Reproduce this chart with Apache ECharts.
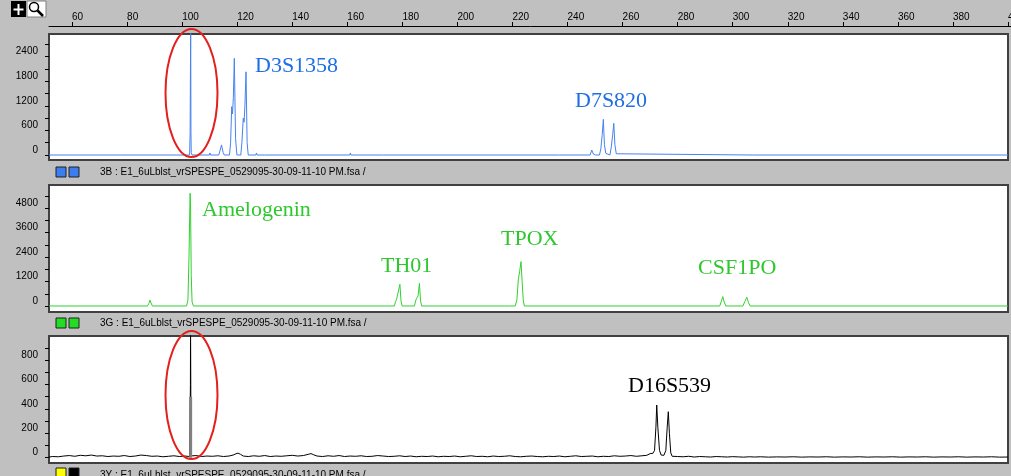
<!DOCTYPE html>
<html><head><meta charset="utf-8">
<script src="https://cdn.jsdelivr.net/npm/echarts@6/dist/echarts.min.js"></script>
<style>html,body{margin:0;padding:0;background:#c0c0c0;overflow:hidden}#c{width:1011px;height:476px}</style>
</head><body><div id="c"></div>
<script>
// ---------- data ----------
const rulerTicks = [60,80,100,120,140,160,180,200,220,240,260,280,300,320,340,360,380,400];

const y1Ticks = [0,300,600,900,1200,1500,1800,2100,2400,2700];
const y1Labels = [0,600,1200,1800,2400];
const y2Ticks = [0,600,1200,1800,2400,3000,3600,4200,4800,5400];
const y2Labels = [0,1200,2400,3600,4800];
const y3Ticks = [0,100,200,300,400,500,600,700,800,900];
const y3Labels = [0,200,400,600,800];

// blue dye (size bp, RFU)
const blueTrace = [
[51.6,0],[60.8,0],[61.1,40],[61.4,0],
[77.7,0],[78.0,40],[78.3,0],
[102.7,0],[102.9,540],[103.0,1950],[103.05,1950],[103.1,3100],[103.2,540],[103.3,60],[103.6,0],
[109.9,0],[110.1,50],[110.3,0],
[113.3,0],[113.8,120],[114.3,245],[114.6,290],[114.9,60],[115.3,0],
[117.2,0],[117.6,300],[118.0,1180],[118.3,1000],[118.6,1400],[118.95,2360],[119.4,400],[119.9,0],
[121.3,0],[121.7,300],[122.2,900],[122.5,800],[122.8,1200],[123.2,2030],[123.6,300],[124.0,0],
[126.8,0],[127.0,50],[127.2,0],
[129.9,0],[130.1,40],[130.3,0],
[160.9,0],[161.1,50],[161.3,0],
[165.6,0],[165.8,40],[166.0,0],
[173.2,0],[173.4,40],[173.6,0],
[237.1,0],[237.3,40],[237.5,0],
[248.2,0],[248.8,120],[249.4,20],[250.2,0],
[251.6,0],[252.1,150],[252.6,500],[253.0,870],[253.4,250],[253.9,40],[254.5,0],
[255.4,0],[255.9,200],[256.4,500],[256.8,773],[257.2,250],[257.7,30],[258.2,0],
[307.1,0],[307.3,40],[307.5,0],
[342.5,0],[342.7,40],[342.9,0],
[376.7,0],[376.9,40],[377.1,0],
[400,0]];

// green dye
const greenTrace = [
[51.6,0],[54.9,0],[55.1,80],[55.3,0],
[87.4,0],[87.9,120],[88.3,290],[88.7,150],[89.2,0],
[101.6,0],[102.1,300],[102.5,2500],[102.8,4960],[102.9,5540],[103.05,4960],[103.3,1500],[103.6,200],[104.1,0],
[108.3,0],[108.6,70],[109.0,0],
[175.3,0],[175.5,50],[175.7,0],
[177.1,0],[177.5,200],[177.9,330],[178.5,420],[179.1,1066],[179.5,250],[179.9,0],
[184.4,0],[184.8,250],[185.2,380],[185.7,500],[186.2,1115],[186.6,250],[187.0,0],
[193.2,0],[193.4,40],[193.6,0],
[218.9,0],[219.1,40],[219.3,0],
[221.0,0],[221.6,300],[222.1,1280],[222.6,1700],[223.1,2180],[223.5,1200],[223.9,300],[224.3,0],
[295.3,0],[295.9,250],[296.4,460],[296.9,200],[297.5,0],
[300.3,0],[300.5,40],[300.7,0],
[303.7,0],[304.4,220],[305.1,430],[305.7,180],[306.3,0],
[400,0]];

// yellow dye (drawn in black)
const blackTrace = [
[51.6,6],[53,10],[55,8],[57,14],[59,18],[61,12],[63,20],[65,16],[67,22],[69,14],[71,16],[73,10],[75,14],[77,12],[79,18],
[81,10],[83,14],[85,22],[87,18],[89,12],[91,14],[93,8],[95,12],[97,16],[99,10],[101,14],[102.7,10],
[102.95,20],[103.0,600],[103.05,1080],[103.12,1080],[103.17,400],[103.25,15],[103.6,12],
[105,18],[107,10],[109,14],[111,12],[113,16],[115,10],[117,14],[118.5,22],[119.5,32],[120.3,38],[121.2,28],[122.2,14],
[124,10],[126,16],[128,12],[130,18],[132,10],[134,14],[136,12],[138,16],[140,20],[142,14],[144,18],[145.8,28],[146.8,34],[147.8,24],
[149,14],[151,10],[153,16],[155,12],[157,18],[159,10],[161,14],[163,12],[165,16],[167,10],[169,12],[171,18],[173,14],[175,10],
[177,12],[179,16],[181,10],[183,14],[185,8],[187,12],[189,10],[191,14],[193,8],[195,12],[197,10],[199,14],[201,8],[203,12],
[205,16],[207,10],[209,12],[211,8],[213,14],[215,10],[217,12],[219,16],[221,10],[223,8],[225,12],[227,14],[229,10],[231,8],
[233,12],[235,10],[237,14],[239,8],[241,12],[243,16],[245,10],[247,12],[249,14],[251,8],[253,12],[255,10],[257,16],[259,12],
[261,14],[263,18],[265,12],[267,16],[268.8,20],[270,34],[271,36],[271.6,60],[272.1,250],[272.4,432],[272.8,250],[273.4,60],
[274,22],[275,20],[275.7,60],[276.2,250],[276.6,377],[277,200],[277.5,40],[278,12],
[280,10],[282,8],[284,12],[286,6],[288,10],[290,8],[292,6],[294,10],[296,8],[298,6],[300,9],[302,7],[304,5],[306,8],[308,6],
[310,8],[313,5],[316,7],[319,6],[322,8],[325,5],[328,7],[331,6],[334,8],[337,5],[340,7],[343,6],[346,8],[349,5],[352,7],
[355,6],[358,8],[361,5],[364,7],[367,6],[370,8],[373,5],[376,7],[379,6],[382,8],[385,5],[388,7],[391,6],[394,8],[397,5],[400,6]];
const grayPullup = [[103.08,0],[103.08,500]];

const markerLabels = [
  {name:'D3S1358', panel:0, x:255, y:66},
  {name:'D7S820', panel:0, x:575, y:101},
  {name:'Amelogenin', panel:1, x:202, y:210},
  {name:'TH01', panel:1, x:381, y:266},
  {name:'TPOX', panel:1, x:501, y:239},
  {name:'CSF1PO', panel:1, x:698, y:268},
  {name:'D16S539', panel:2, x:628, y:386}
];
const fileLabels = [
  '3B : E1_6uLblst_vrSPESPE_0529095-30-09-11-10 PM.fsa /',
  '3G : E1_6uLblst_vrSPESPE_0529095-30-09-11-10 PM.fsa /',
  '3Y : E1_6uLblst_vrSPESPE_0529095-30-09-11-10 PM.fsa /'
];

// ---------- styles ----------
const lineColors = ['#4682f0','#30d030','#000000'];
const textColors = ['#1e6ee6','#2ec82e','#000000'];
const squareColors = [['#3c7df0','#3c7df0'],['#22dd22','#22dd22'],['#ffff00','#000000']];
const barTextY = [172, 323, 475];
const squareY = [172, 323, 473];

const LEFT = 49, RIGHT = 3, X_MIN = 51.63, X_MAX = 400;
const PX_PER_BP = 959 / (X_MAX - X_MIN);
const RULER_RIGHT = -20;
const RULER_MAX = X_MAX + (RIGHT - RULER_RIGHT) / PX_PER_BP;
const panelTops = [34, 185, 336];
const panelHeights = [126, 127, 127];
const yMin = [-122, -295, -43];
const yMax = [2953, 5946, 997];
const yTickSets = [y1Ticks, y2Ticks, y3Ticks];
const yLabelSets = [y1Labels, y2Labels, y3Labels];
const traces = [blueTrace, greenTrace, blackTrace];
const plain = v => String(v);

const grid = [{left:LEFT, right:RULER_RIGHT, top:0, height:26, show:false, outerBoundsMode:'none', containLabel:false}];
const xAxis = [{
  gridIndex:0, type:'value', min:X_MIN, max:RULER_MAX, position:'bottom',
  axisLine:{show:true, lineStyle:{color:'#000', width:1}},
  axisTick:{show:true, inside:true, length:4, customValues:rulerTicks, lineStyle:{color:'#000'}},
  axisLabel:{show:true, inside:true, customValues:rulerTicks, align:'left', verticalAlign:'middle', margin:9,
    fontSize:10, color:'#000', fontFamily:'Liberation Sans, Arial, sans-serif', formatter:plain, hideOverlap:false},
  splitLine:{show:false}
}];
const yAxis = [{gridIndex:0, type:'value', show:false}];
const series = [];

for (let i = 0; i < 3; i++) {
  grid.push({left:LEFT, right:RIGHT, top:panelTops[i], height:panelHeights[i], show:true, outerBoundsMode:'none', containLabel:false,
    backgroundColor:'#ffffff', borderColor:'#404040', borderWidth:2});
  xAxis.push({gridIndex:i+1, type:'value', min:X_MIN, max:X_MAX, show:false, splitLine:{show:false}});
  yAxis.push({gridIndex:i+1, type:'value', min:yMin[i], max:yMax[i],
    axisLine:{show:false},
    axisTick:{show:true, length:4, customValues:yTickSets[i], lineStyle:{color:'#000'}},
    axisLabel:{show:true, customValues:yLabelSets[i], formatter:plain, fontSize:10, color:'#000', margin:11,
      verticalAlign:'bottom', lineHeight:10, fontFamily:'Liberation Sans, Arial, sans-serif'},
    splitLine:{show:false}});
  series.push({type:'line', xAxisIndex:i+1, yAxisIndex:i+1, data:traces[i], showSymbol:false, symbol:'none',
    lineStyle:{color:lineColors[i], width:1}, animation:false, silent:true, clip:true});
}
series.push({type:'line', xAxisIndex:3, yAxisIndex:3, data:grayPullup, showSymbol:false, symbol:'none',
  lineStyle:{color:'#808080', width:3}, animation:false, silent:true, z:3});

// ---------- decorations ----------
const graphic = [];
// toolbar icons
graphic.push({type:'rect', shape:{x:11,y:1,width:15,height:16}, style:{fill:'#000'}, z:100});
graphic.push({type:'line', shape:{x1:13.5,y1:9.5,x2:23.5,y2:9.5}, style:{stroke:'#fff',lineWidth:2}, z:101});
graphic.push({type:'line', shape:{x1:18.5,y1:4,x2:18.5,y2:15}, style:{stroke:'#fff',lineWidth:2}, z:101});
graphic.push({type:'rect', shape:{x:27,y:1,width:19,height:16}, style:{fill:'#fff', stroke:'#808080', lineWidth:1}, z:100});
graphic.push({type:'circle', shape:{cx:34,cy:7,r:4.5}, style:{fill:'none',stroke:'#000',lineWidth:1.5}, z:101});
graphic.push({type:'line', shape:{x1:37.5,y1:10.5,x2:43,y2:16}, style:{stroke:'#000',lineWidth:2.5}, z:101});

// separator bars
for (let i = 0; i < 3; i++) {
  const sy = squareY[i];
  graphic.push({type:'rect', shape:{x:56,y:sy-5,width:10,height:10}, style:{fill:squareColors[i][0], stroke:'#202020', lineWidth:1}, z:50});
  graphic.push({type:'rect', shape:{x:69,y:sy-5,width:10,height:10}, style:{fill:squareColors[i][1], stroke:'#202020', lineWidth:1}, z:50});
  graphic.push({type:'text', x:100, y:barTextY[i], style:{text:fileLabels[i], fill:'#000', fontSize:10,
    fontFamily:'Liberation Sans, Arial, sans-serif', verticalAlign:'middle', align:'left'}, z:50});
}
// marker labels
markerLabels.forEach(m => {
  graphic.push({type:'text', x:m.x, y:m.y, style:{text:m.name, fill:textColors[m.panel], fontSize:22,
    fontFamily:'Liberation Serif, Times New Roman, serif', verticalAlign:'middle', align:'left'}, z:60});
});
// red annotation ellipses
graphic.push({type:'ellipse', shape:{cx:191.5, cy:93, rx:26, ry:64}, style:{fill:'none', stroke:'#e4201c', lineWidth:2}, z:120});
graphic.push({type:'ellipse', shape:{cx:191.5, cy:395, rx:26, ry:64}, style:{fill:'none', stroke:'#e4201c', lineWidth:2}, z:120});

const chart = echarts.init(document.getElementById('c'), null, {renderer:'canvas'});
chart.setOption({
  backgroundColor:'#c0c0c0',
  animation:false,
  grid, xAxis, yAxis, series, graphic
});
</script>
</body></html>
